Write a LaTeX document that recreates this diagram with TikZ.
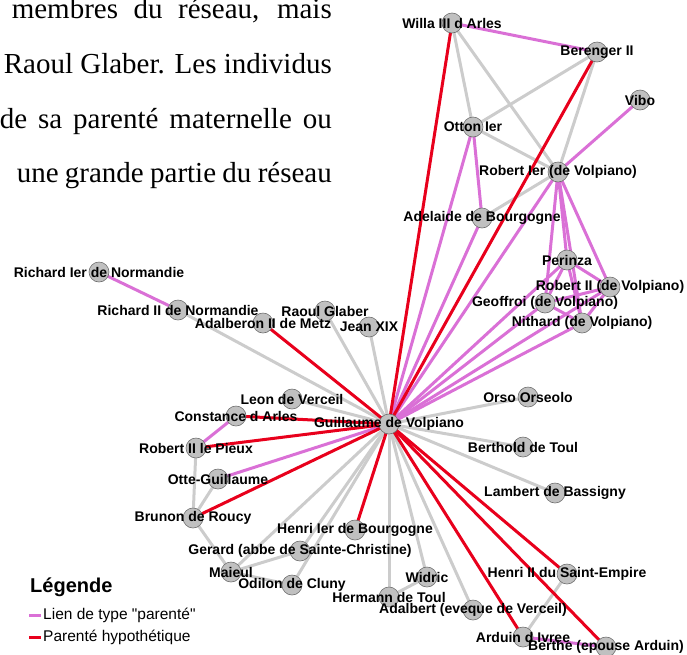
\documentclass[tikz,border=0pt]{standalone}
\usepackage{fontspec}
\setmainfont{Liberation Serif}
\newfontfamily\labfont{Liberation Sans}
\definecolor{egray}{RGB}{204,204,204}
\definecolor{epink}{RGB}{218,112,214}
\definecolor{ered}{RGB}{232,0,28}
\definecolor{nfill}{RGB}{192,192,192}
\definecolor{nline}{RGB}{110,110,110}
\tikzset{
  vtx/.style={circle,minimum size=20pt,inner sep=0pt,fill=nfill,draw=nline,line width=0.6pt},
  lab/.style={font=\labfont\bfseries\fontsize{14}{16}\selectfont,inner sep=0pt,text=black},
  gedge/.style={draw=egray,line width=3pt},
  pedge/.style={draw=epink,line width=3pt},
  redge/.style={draw=ered,line width=3pt},
  para/.style={font=\fontsize{29}{32}\selectfont,inner sep=0pt,anchor=base east},
  legtext/.style={font=\labfont\fontsize{15.5}{17}\selectfont,anchor=west,inner sep=0pt},
}
\begin{document}
\begin{tikzpicture}[x=1pt,y=-1pt]
\useasboundingbox (0,0) rectangle (687,654);
% paragraph
\node[para] (p1) at (332,18) {\makebox[320pt][s]{membres du réseau, mais}};
\node[para] (p2) at (332,73) {\makebox[328pt][s]{Raoul Glaber. Les individus}};
\node[para] (p3) at (332,128) {\makebox[332pt][s]{de sa parenté maternelle ou}};
\node[para] (p4) at (332,182) {\makebox[315pt][s]{une grande partie du réseau}};
% nodes
\foreach \n/\x/\y in {g/389/424, willa/452/23, beren/597/52, vibo/640/100, otton/473/127,
  rob1/558/172, adel/482/218, perinza/567/260, rob2v/610/287, geof/545/303, nith/582/323,
  rich1/99/272, rich2/178/310, adalb/263/323, raoul/325/311, jean/369/327, leon/292/399,
  const/236/416, robp/196/448, otte/218/479, brunon/193/518, gerard/300/551, maieul/231/572,
  odilon/292/585, henri1/355/530, hermann/389/597, widric/427/577, adalbert/473/610,
  arduin/523/637, berthe/606/647, henri2/567/574, orso/528/397, berthold/523/447, lambert/555/493}
  {\coordinate (\n) at (\x,\y);}
% gray edges
\foreach \a/\b in {willa/otton, willa/rob1, beren/otton, beren/rob1, otton/rob1, rob1/adel,
  rich2/g, raoul/g, jean/g, leon/g, robp/brunon, otte/brunon, brunon/maieul, maieul/gerard,
  maieul/g, gerard/g, odilon/g, maieul/odilon, hermann/g, hermann/widric, widric/g,
  adalbert/g, henri2/arduin, lambert/g, berthold/g, orso/g}
  {\draw[gedge] (\a) -- (\b);}
% pink edges
\foreach \a/\b in {willa/beren, vibo/rob1, otton/adel, otton/g, adel/g, rob1/g, rob1/perinza,
  rob1/rob2v, rob1/geof, rob1/nith, perinza/rob2v, perinza/geof, perinza/nith, rob2v/geof,
  rob2v/nith, geof/nith, perinza/g, rob2v/g, geof/g, nith/g, rich1/rich2, const/robp, otte/g,
  arduin/berthe}
  {\draw[pedge] (\a) -- (\b);}
% red edges
\foreach \a/\b in {willa/g, beren/g, adalb/g, const/g, robp/g, brunon/g, henri1/g, arduin/g,
  berthe/g, henri2/g}
  {\draw[redge] (\a) -- (\b);}
% circles
\foreach \n in {g, willa, beren, vibo, otton, rob1, adel, perinza, rob2v, geof, nith, rich1,
  rich2, adalb, raoul, jean, leon, const, robp, otte, brunon, gerard, maieul, odilon, henri1,
  hermann, widric, adalbert, arduin, berthe, henri2, orso, berthold, lambert}
  {\node[vtx] (c-\n) at (\n) {};}
% labels
\foreach \n/\t in {g/Guillaume de Volpiano, willa/Willa III d Arles, beren/Berenger II,
  vibo/Vibo, otton/Otton Ier, rob1/Robert Ier (de Volpiano), adel/Adelaide de Bourgogne,
  perinza/Perinza, rob2v/Robert II (de Volpiano), geof/Geoffroi (de Volpiano),
  nith/Nithard (de Volpiano), rich1/Richard Ier de Normandie, rich2/Richard II de Normandie,
  adalb/Adalberon II de Metz, raoul/Raoul Glaber, jean/Jean XIX, leon/Leon de Verceil,
  const/Constance d Arles, robp/Robert II le Pieux, otte/Otte-Guillaume,
  brunon/Brunon de Roucy, gerard/Gerard (abbe de Sainte-Christine), maieul/Maieul,
  odilon/Odilon de Cluny, henri1/Henri Ier de Bourgogne, hermann/Hermann de Toul,
  widric/Widric, adalbert/Adalbert (eveque de Verceil), arduin/Arduin d Ivree,
  berthe/Berthe (epouse Arduin), henri2/Henri II du Saint-Empire, orso/Orso Orseolo,
  berthold/Berthold de Toul, lambert/Lambert de Bassigny}
  {\node[lab] (l-\n) at (\n) {\t};}
% legend
\node[font=\labfont\bfseries\fontsize{20}{22}\selectfont,anchor=west,inner sep=0pt] (legt) at (30,587) {Légende};
\coordinate (lp1) at (29,615); \coordinate (lp2) at (41,615);
\coordinate (lr1) at (29,637); \coordinate (lr2) at (41,637);
\draw[pedge] (lp1) -- (lp2);
\draw[redge] (lr1) -- (lr2);
\node[legtext] (legp) at (43,615) {Lien de type "parenté"};
\node[legtext] (legr) at (43,637) {Parenté hypothétique};
\end{tikzpicture}
\end{document}
